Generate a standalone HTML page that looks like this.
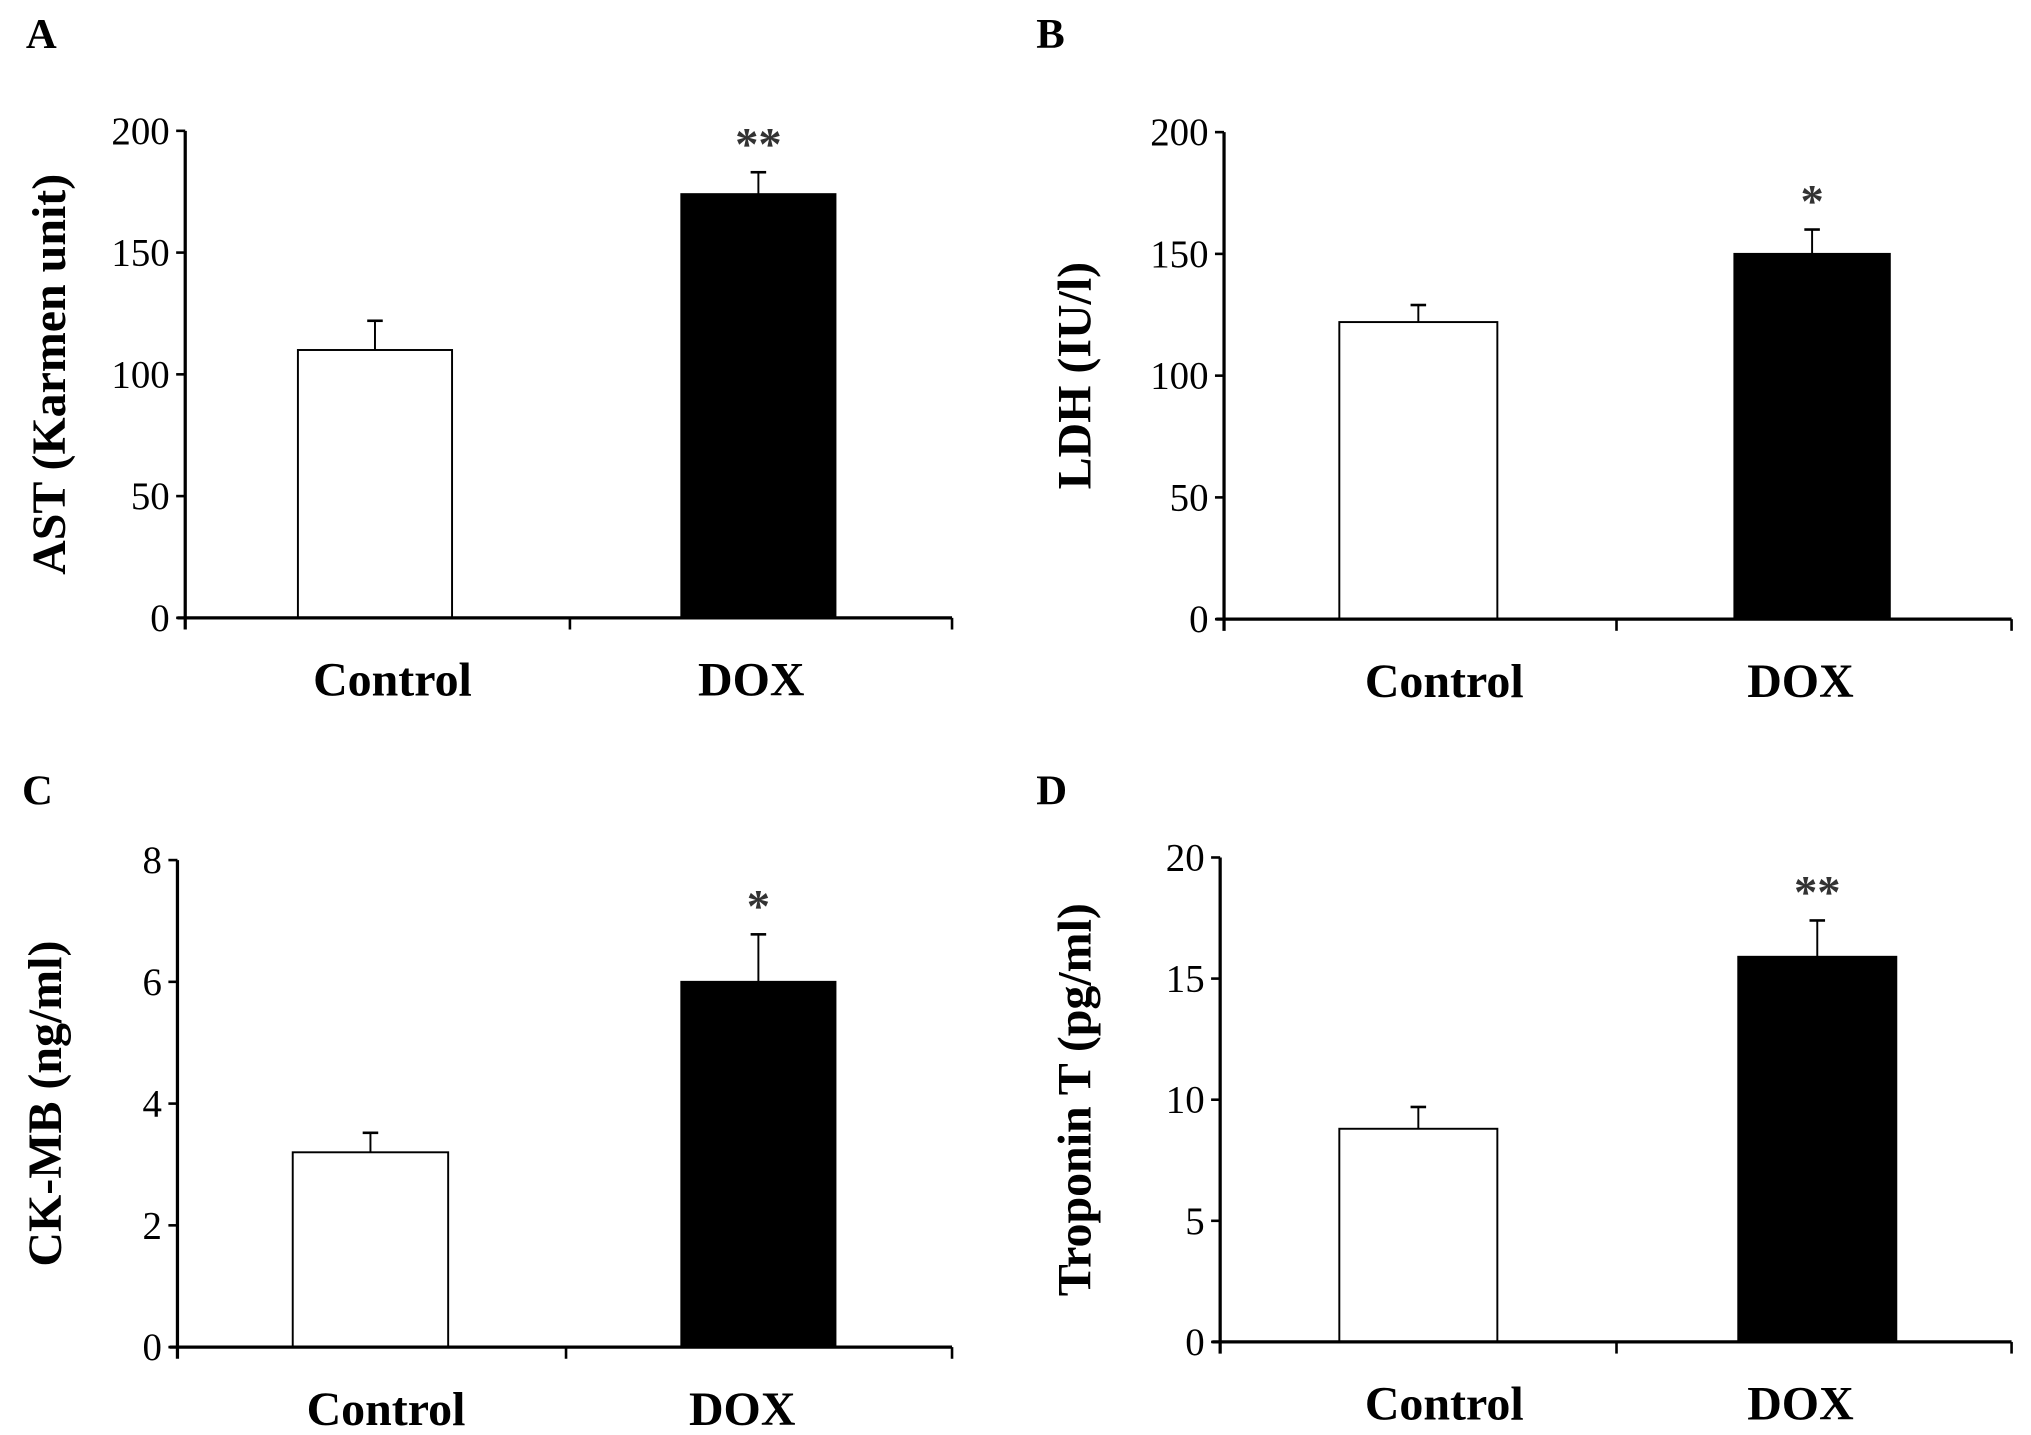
<!DOCTYPE html>
<html><head><meta charset="utf-8"><style>
html,body{margin:0;padding:0;background:#fff;}
svg{display:block;font-family:"Liberation Serif",serif;}
</style></head><body>
<svg id="fig" width="2031" height="1435" viewBox="0 0 1568 1107.85"></svg>
<script>
const categories = ["Control", "DOX"];
const panelLetters = ["A", "B", "C", "D"];
const axisTitles = ["AST (Karmen unit)", "LDH (IU/l)", "CK-MB (ng/ml)", "Troponin T (pg/ml)"];
const yMax = [200, 200, 8, 20];
const tickLabelsA = ["0", "50", "100", "150", "200"];
const tickLabelsB = ["0", "50", "100", "150", "200"];
const tickLabelsC = ["0", "2", "4", "6", "8"];
const tickLabelsD = ["0", "5", "10", "15", "20"];
const meansA = [110, 174];
const errA = [12, 9];
const meansB = [122, 150];
const errB = [7, 10];
const meansC = [3.2, 6.0];
const errC = [0.32, 0.78];
const meansD = [8.8, 15.9];
const errD = [0.9, 1.5];
const sigMarks = ["**", "*", "*", "**"];

const NS = "http://www.w3.org/2000/svg";
const svg = document.getElementById("fig");
function mk(tag, attrs, parent) {
  const e = document.createElementNS(NS, tag);
  for (const k in attrs) e.setAttribute(k, attrs[k]);
  (parent || svg).appendChild(e);
  return e;
}
const layouts = [
  {ax: 143, top: 101, bot: 477, right: 735, mid: 440, bars: [[230, 349], [526, 645]], lx: 20, ly: 37, tx: 38, cat: [303, 580]},
  {ax: 945, top: 102, bot: 478, right: 1553, mid: 1248, bars: [[1034, 1156], [1339, 1459]], lx: 800, ly: 37, tx: 830, cat: [1115, 1390]},
  {ax: 137, top: 664, bot: 1040, right: 735, mid: 437, bars: [[226, 346], [526, 645]], lx: 17, ly: 621, tx: 35, cat: [298, 573]},
  {ax: 942, top: 662, bot: 1036, right: 1553, mid: 1248, bars: [[1034, 1156], [1342, 1464]], lx: 800, ly: 621, tx: 830, cat: [1115, 1390]}
];
const ticks = [tickLabelsA, tickLabelsB, tickLabelsC, tickLabelsD];
const means = [meansA, meansB, meansC, meansD];
const errs = [errA, errB, errC, errD];

layouts.forEach((L, p) => {
  const g = mk("g", {});
  
  
  const y = v => L.bot - (v / yMax[p]) * (L.bot - L.top);
  const lab = mk("text", {x: L.lx, y: L.ly, "font-size": 33, "font-weight": "bold"}, g);
  lab.textContent = panelLetters[p];
  
  
  means[p].forEach((m, i) => {
    const [x0, x1] = L.bars[i];
    const cx = (x0 + x1) / 2;
    const eb = mk("line", {x1: cx, x2: cx, y1: y(m), y2: y(m + errs[p][i]), stroke: "#000", "stroke-width": 1.5}, g);
    
    
    const cap = mk("line", {x1: cx - 6, x2: cx + 6, y1: y(m + errs[p][i]), y2: y(m + errs[p][i]), stroke: "#000", "stroke-width": 2}, g);
    
    
    const r = mk("rect", {x: x0, y: y(m), width: x1 - x0, height: L.bot - y(m), fill: i ? "#000" : "#fff", stroke: "#000", "stroke-width": 1.5}, g);
    
    
    const cl = mk("text", {x: L.cat[i], y: L.bot + 60, "font-size": 37, "font-weight": "bold", "text-anchor": "middle"}, g);
    cl.textContent = categories[i];
    
    
    if (i === 1) {
      const s = mk("text", {x: cx, y: y(m + errs[p][i]) - 10, "font-size": 36, "text-anchor": "middle", fill: "#333", "font-weight": "bold"}, g);
      s.textContent = sigMarks[p];
      
      
    }
  });
  const ya = mk("line", {x1: L.ax, x2: L.ax, y1: L.top, y2: L.bot + 9, stroke: "#000", "stroke-width": 2.5}, g);
  
  
  const xa = mk("line", {x1: L.ax - 6, x2: L.right, y1: L.bot, y2: L.bot, stroke: "#000", "stroke-width": 2.5}, g);
  
  
  [L.mid, L.right].forEach(xx => {
    const t = mk("line", {x1: xx, x2: xx, y1: L.bot, y2: L.bot + 9, stroke: "#000", "stroke-width": 2}, g);
    
    
  });
  ticks[p].forEach(tl => {
    const v = parseFloat(tl);
    const t = mk("line", {x1: L.ax - 7, x2: L.ax, y1: y(v), y2: y(v), stroke: "#000", "stroke-width": 2}, g);
    
    
    const tx = mk("text", {x: L.ax - 12, y: y(v) + 10, "font-size": 30, "text-anchor": "end"}, g);
    tx.textContent = tl;
    
    
  });
  const cy = (L.top + L.bot) / 2;
  const at = mk("text", {x: L.tx, y: cy, "font-size": 37, "font-weight": "bold", "text-anchor": "middle", transform: "rotate(-90 " + L.tx + " " + cy + ")", dy: 12}, g);
  at.textContent = axisTitles[p];
  
  
});
</script>
</body></html>
